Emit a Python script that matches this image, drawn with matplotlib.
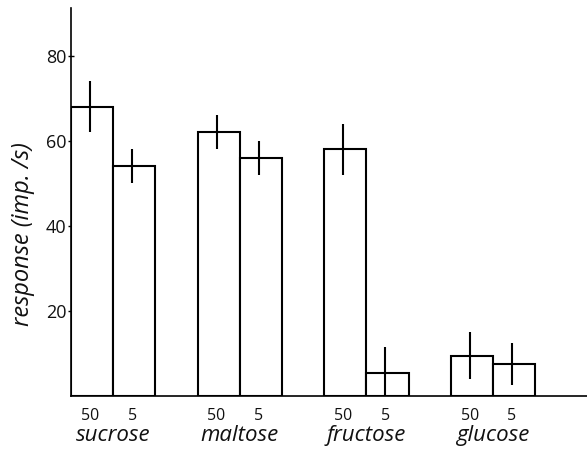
import matplotlib
matplotlib.use("Agg")
import matplotlib.pyplot as plt
import numpy as np

sugars = ["sucrose", "maltose", "fructose", "glucose"]
conc_labels = ["50", "5"]
resp_50 = [68, 62, 58, 9.5]
resp_5 = [54, 56, 5.5, 7.5]
err_50 = [6, 4, 6, 5.5]
err_5 = [4, 4, 6, 5]
yticks = [20, 40, 60, 80]

plt.rcParams['font.family'] = ['Open Sans', 'DejaVu Sans']

fig = plt.figure(figsize=(5.87, 4.53), dpi=100)
ax = fig.add_axes([0.121, 0.126, 0.879, 0.857])

group_x = np.arange(len(sugars)) * 3.0
lw = 1.5
for i in range(len(sugars)):
    for j, (vals, errs) in enumerate([(resp_50, err_50), (resp_5, err_5)]):
        left = group_x[i] + j
        ax.bar(left, vals[i], width=1.0, align='edge', facecolor='white',
               edgecolor='black', linewidth=lw, zorder=2)
        ax.errorbar(left + 0.45, vals[i], yerr=errs[i], fmt='none',
                    ecolor='black', elinewidth=lw, capsize=0, zorder=3)

ax.set_xlim(0, 12.23)
ax.set_ylim(0, 91.3)
for s in ['top', 'right']:
    ax.spines[s].set_visible(False)
ax.spines['left'].set_linewidth(1.2)
ax.spines['bottom'].set_linewidth(1.2)

ax.set_yticks(yticks)
ax.set_yticklabels([str(t) for t in yticks], fontsize=13, color='#111111')
ax.tick_params(axis='y', direction='inout', length=5, width=1, pad=1)

ax.set_xticks([])
for i, name in enumerate(sugars):
    for j, c in enumerate(conc_labels):
        ax.text(group_x[i] + j + 0.45, -4.7, c, ha='center', va='center',
                fontsize=11.5, color='#111111')
    ax.text(group_x[i] + 1.0, -9.4, name, ha='center', va='center',
            fontsize=16, style='italic', color='#111111')

fig.text(23 / 587, 1 - 234.5 / 453, "response (imp. /s)", rotation=90,
         ha='center', va='center', fontsize=17, style='italic',
         color='#111111')

fig.savefig("out.png", dpi=100)
